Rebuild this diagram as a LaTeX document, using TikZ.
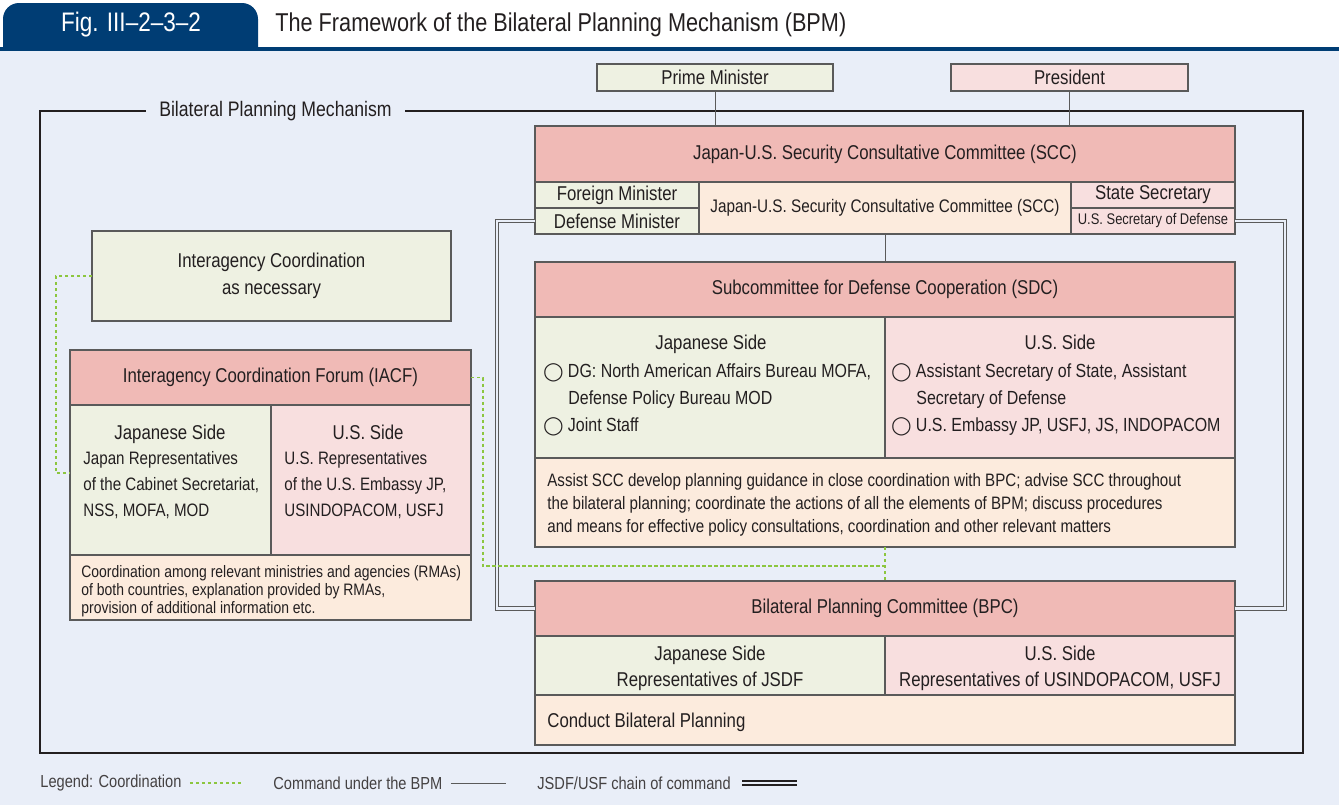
\documentclass[tikz,border=0pt]{standalone}
\usepackage{fontspec}
\setmainfont{Liberation Sans}[FakeStretch=0.84]
\newfontfamily\symfont{DejaVu Sans}
\usepackage{xcolor}
\definecolor{bpmnavy}{RGB}{0,61,116}
\definecolor{bpmbg}{RGB}{233,238,248}
\definecolor{bpmrose}{RGB}{240,186,182}
\definecolor{bpmsage}{RGB}{238,241,226}
\definecolor{bpmblush}{RGB}{248,223,223}
\definecolor{bpmpeach}{RGB}{252,235,221}
\definecolor{bpmline}{RGB}{90,90,90}
\definecolor{bpmink}{RGB}{35,31,32}
\definecolor{bpmlime}{RGB}{140,198,63}
\usetikzlibrary{calc}

\newcommand{\mainsz}{\fontsize{10}{13.5}\selectfont}
\newcommand{\listsz}{\fontsize{9.5}{13.5}\selectfont}
\newcommand{\sidesz}{\fontsize{9}{13}\selectfont}
\newcommand{\midsz}{\fontsize{9.1}{11}\selectfont}
\newcommand{\notesz}{\fontsize{9}{11.5}\selectfont}
\newcommand{\tinysz}{\fontsize{8.3}{9}\selectfont}
\newcommand{\usdsz}{\fontsize{7.7}{9}\selectfont}
\newcommand{\legsz}{\fontsize{8.7}{10}\selectfont}
\newcommand{\titlesz}{\fontsize{12.9}{15}\selectfont}
\newcommand{\ring}{{\symfont\fontsize{9}{9}\selectfont ◯}}

\tikzset{
  box/.style={draw=bpmline, line width=0.6pt, inner sep=0pt, outer sep=0pt,
    anchor=north west, text=bpmink, font=\mainsz, align=center},
  hdrbox/.style={box, fill=bpmrose},
  jpbox/.style={box, fill=bpmsage},
  usbox/.style={box, fill=bpmblush},
  notebox/.style={box, fill=bpmpeach},
  ln/.style={inner sep=0pt, text=bpmink, font=\listsz},
  noteln/.style={inner sep=0pt, text=bpmink, font=\notesz},
  coord/.style={draw=bpmlime, line width=0.9pt, dash pattern=on 1.6pt off 1.4pt},
  cmd/.style={draw=bpmline, line width=0.5pt},
  chain/.style={draw=bpmline, line width=0.5pt, double=bpmbg, double distance=1.2pt}
}

\begin{document}
\begin{tikzpicture}[x=0.5pt, y=-0.5pt]
  \useasboundingbox (0,0) rectangle (1339,805);

  % page and title bar
  \fill[white] (0,0) rectangle (1339,805);
  \fill[bpmbg] (0,50) rectangle (1339,805);
  \fill[bpmnavy] (3,50) [rounded corners=8pt] -- (3,3) -- (258,3) [sharp corners] -- (258,50) -- cycle;
  \fill[bpmnavy] (0,47) rectangle (1339,51);
  \node[font=\fontsize{13.4}{15}\selectfont, white, inner sep=0pt] (fignum) at (131,25) {Fig. III--2--3--2};
  \node[font=\titlesz, bpmink, inner sep=0pt, anchor=west] (figtitle) at (275,25)
    {The Framework of the Bilateral Planning Mechanism (BPM)};

  % outer frame
  \draw[line width=1.2pt, bpmink] (40,111) rectangle (1303,753);
  \node[fill=bpmbg, inner xsep=6.5pt, inner ysep=2pt, font=\fontsize{10.5}{12}\selectfont, text=bpmink]
    (bpmlbl) at (275.5,111) {Bilateral Planning Mechanism};

  % heads of government
  \node[jpbox, minimum width=118pt, minimum height=13.5pt] (pm) at (597,64) {Prime Minister};
  \node[usbox, minimum width=118.5pt, minimum height=13.5pt] (pres) at (951,64) {President};

  % SCC
  \node[hdrbox, minimum width=350pt, minimum height=28pt] (scch) at (535,126)
    {Japan-U.S. Security Consultative Committee (SCC)};
  \node[jpbox, minimum width=82pt, minimum height=13pt] (fm) at (535,182) {Foreign Minister};
  \node[jpbox, minimum width=82pt, minimum height=13pt] (dm) at (535,208) {Defense Minister};
  \node[notebox, minimum width=186pt, minimum height=26pt, font=\midsz] (sccmid) at (699,182)
    {Japan-U.S. Security Consultative Committee (SCC)};
  \node[usbox, minimum width=82pt, minimum height=13pt] (ss) at (1071,182) {State Secretary};
  \node[usbox, minimum width=82pt, minimum height=13pt, font=\usdsz] (usd) at (1071,208)
    {U.S. Secretary of Defense};

  % SDC
  \node[hdrbox, minimum width=350pt, minimum height=27.5pt] (sdch) at (535,262)
    {Subcommittee for Defense Cooperation (SDC)};
  \node[jpbox, minimum width=175pt, minimum height=70.5pt] (sdcjp) at (535,317) {};
  \node[usbox, minimum width=175pt, minimum height=70.5pt] (sdcus) at (885,317) {};
  \node[notebox, minimum width=350pt, minimum height=44.5pt] (sdcnote) at (535,458) {};

  \node[ln, font=\mainsz, anchor=base] (sdcjp0) at (711,349) {Japanese Side};
  \node[ln, anchor=base west] (sdcjp1) at (543,377) {\ring\ DG: North American Affairs Bureau MOFA,};
  \node[ln, anchor=base west] (sdcjp2) at (568,404) {Defense Policy Bureau MOD};
  \node[ln, anchor=base west] (sdcjp3) at (543,431) {\ring\ Joint Staff};
  \node[ln, font=\mainsz, anchor=base] (sdcus0) at (1060,349) {U.S. Side};
  \node[ln, anchor=base west] (sdcus1) at (891,377) {\ring\ Assistant Secretary of State, Assistant};
  \node[ln, anchor=base west] (sdcus2) at (916,404) {Secretary of Defense};
  \node[ln, anchor=base west] (sdcus3) at (891,431) {\ring\ U.S. Embassy JP, USFJ, JS, INDOPACOM};

  \node[noteln, anchor=base west] (sdcn1) at (547,486)
    {Assist SCC develop planning guidance in close coordination with BPC; advise SCC throughout};
  \node[noteln, anchor=base west] (sdcn2) at (547,509)
    {the bilateral planning; coordinate the actions of all the elements of BPM; discuss procedures};
  \node[noteln, anchor=base west] (sdcn3) at (547,532)
    {and means for effective policy consultations, coordination and other relevant matters};

  % BPC
  \node[hdrbox, minimum width=350pt, minimum height=27.5pt] (bpch) at (535,581)
    {Bilateral Planning Committee (BPC)};
  \node[jpbox, minimum width=175pt, minimum height=29.5pt] (bpcjp) at (535,636) {};
  \node[usbox, minimum width=175pt, minimum height=29.5pt] (bpcus) at (885,636) {};
  \node[notebox, minimum width=350pt, minimum height=25pt] (bpcnote) at (535,695) {};
  \node[ln, font=\mainsz, anchor=base] (bpcjp0) at (710,660) {Japanese Side};
  \node[ln, font=\mainsz, anchor=base] (bpcjp1) at (710,686) {Representatives of JSDF};
  \node[ln, font=\mainsz, anchor=base] (bpcus0) at (1060,660) {U.S. Side};
  \node[ln, font=\mainsz, anchor=base] (bpcus1) at (1060,686) {Representatives of USINDOPACOM, USFJ};
  \node[ln, font=\mainsz, anchor=base west] (bpcn1) at (547,727) {Conduct Bilateral Planning};

  % interagency side
  \node[jpbox, minimum width=179.5pt, minimum height=45pt] (iac) at (92,231)
    {Interagency Coordination\\as necessary};
  \node[hdrbox, minimum width=200.5pt, minimum height=27.5pt] (iacfh) at (70,350)
    {Interagency Coordination Forum (IACF)};
  \node[jpbox, minimum width=100.5pt, minimum height=75pt] (iacfjp) at (70,405) {};
  \node[usbox, minimum width=100pt, minimum height=75pt] (iacfus) at (271,405) {};
  \node[notebox, minimum width=200.5pt, minimum height=32.5pt] (iacfnote) at (70,555) {};

  \node[ln, font=\mainsz, anchor=base] (iacfjp0) at (170,439) {Japanese Side};
  \node[ln, font=\sidesz, anchor=base west] (iacfjp1) at (83,464) {Japan Representatives};
  \node[ln, font=\sidesz, anchor=base west] (iacfjp2) at (83,490) {of the Cabinet Secretariat,};
  \node[ln, font=\sidesz, anchor=base west] (iacfjp3) at (83,516) {NSS, MOFA, MOD};
  \node[ln, font=\mainsz, anchor=base] (iacfus0) at (368,439) {U.S. Side};
  \node[ln, font=\sidesz, anchor=base west] (iacfus1) at (284,464) {U.S. Representatives};
  \node[ln, font=\sidesz, anchor=base west] (iacfus2) at (284,490) {of the U.S. Embassy JP,};
  \node[ln, font=\sidesz, anchor=base west] (iacfus3) at (284,516) {USINDOPACOM, USFJ};

  \node[noteln, font=\tinysz, anchor=base west] (iacfn1) at (81,577)
    {Coordination among relevant ministries and agencies (RMAs)};
  \node[noteln, font=\tinysz, anchor=base west] (iacfn2) at (81,595)
    {of both countries, explanation provided by RMAs,};
  \node[noteln, font=\tinysz, anchor=base west] (iacfn3) at (81,613)
    {provision of additional information etc.};

  % command lines
  \draw[cmd] (pm.south) -- (pm.south |- scch.north);
  \draw[cmd] (pres.south) -- (pres.south |- scch.north);
  \draw[cmd] (sdch.north |- sccmid.south) -- (sdch.north);

  % chain of command
  \draw[chain] (dm.west) -- ++(-38,0) |- (bpch.west);
  \draw[chain] (usd.east) -- ++(50,0) |- (bpch.east);

  % coordination
  \coordinate (bpcjoin) at ($(sdcnote.south)!0.56!(bpch.north)$);
  \draw[coord] (sdcnote.south) -- (bpch.north);
  \draw[coord] (iacfh.east) -- ++(12,0) |- (bpcjoin);
  \draw[coord] (iac.west) -- ++(-36,0) |- ([yshift=3.5pt]iacfjp.west);

  % legend
  \node[noteln, font=\legsz, text=bpmink!85, anchor=west] (legcoord) at (40,783) {Legend: Coordination};
  \draw[coord] ([xshift=4pt]legcoord.east) -- ++(53,0);
  \node[noteln, font=\legsz, text=bpmink!85, anchor=west] (legcmd) at (273,783) {Command under the BPM};
  \draw[cmd] ([xshift=4pt]legcmd.east) -- ++(55,0);
  \node[noteln, font=\legsz, text=bpmink!85, anchor=west] (legchain) at (537,783) {JSDF/USF chain of command};
  \draw[draw=bpmink, line width=1pt, double=bpmbg, double distance=1pt]
    ([xshift=5.5pt]legchain.east) -- ++(55,0);
\end{tikzpicture}
\end{document}
